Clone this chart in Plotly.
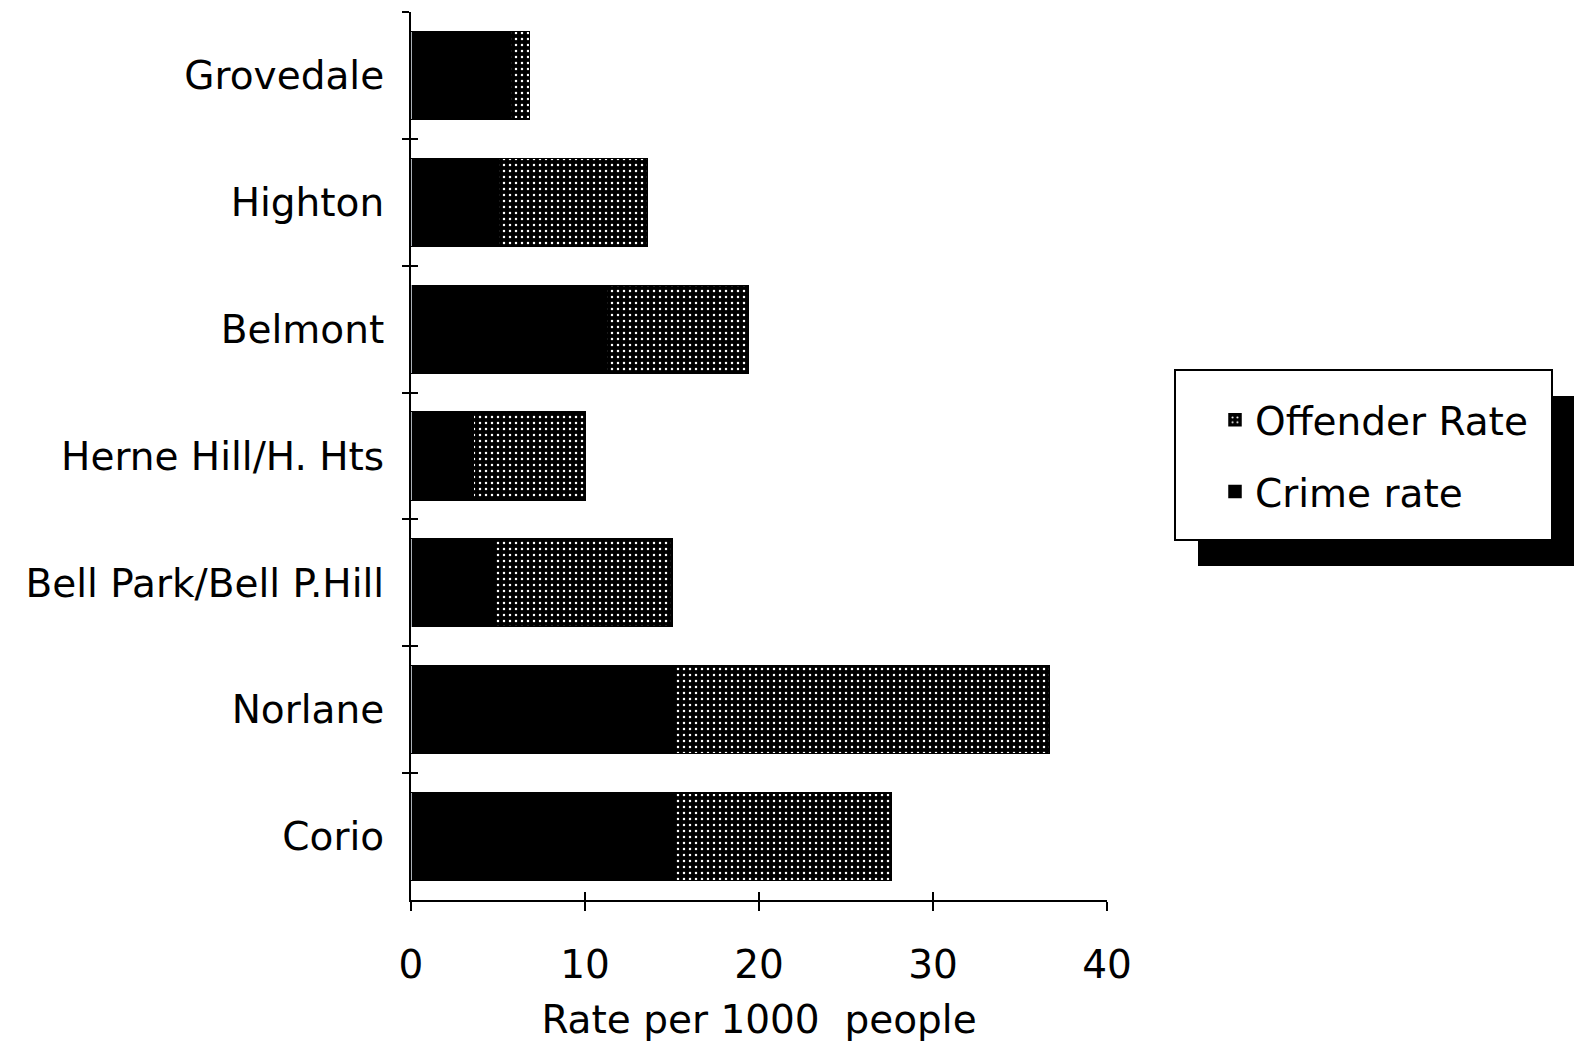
import plotly.graph_objects as go

suburbs = ["Grovedale", "Highton", "Belmont", "Herne Hill/H. Hts",
           "Bell Park/Bell P.Hill", "Norlane", "Corio"]
crime_rate = [5.7, 5.0, 11.2, 3.6, 4.8, 15.1, 15.1]
offender_rate = [1.1, 8.6, 8.2, 6.4, 10.2, 21.6, 12.5]
x_ticks = [0, 10, 20, 30, 40]
x_title = "Rate per 1000  people"

FONT = "DejaVu Sans"
FS = 39

fig = go.Figure()
fig.add_trace(go.Bar(
    y=suburbs, x=crime_rate, orientation="h", name="Crime rate",
    legendrank=2, legendgroup="crime",
    marker=dict(color="black", line=dict(color="black", width=1.5)),
))
fig.add_trace(go.Bar(
    y=suburbs, x=offender_rate, orientation="h", name="Offender Rate",
    legendrank=1, legendgroup="offender",
    marker=dict(color="black", line=dict(color="black", width=1.5),
                pattern=dict(shape=".", bgcolor="black", fgcolor="white",
                             size=6, solidity=0.14, fillmode="replace")),
))

L, R, T, B = 411, 467, 12, 144
W, H = 1574, 1044
pw, ph = W - L - R, H - T - B


def px(x):
    return (x - L) / pw


def py(y):
    return (H - B - y) / ph


axis_common = dict(tickwidth=2, tickcolor="black", showgrid=False,
                   zeroline=False, automargin=False)

fig.update_layout(
    width=W, height=H,
    margin=dict(l=L, r=R, t=T, b=B, autoexpand=False),
    paper_bgcolor="white", plot_bgcolor="white",
    barmode="stack", bargap=0.31,
    font=dict(family=FONT, size=FS, color="black"),
    showlegend=True,
    legend=dict(x=px(1215), y=py(388), xanchor="left", yanchor="top",
                bgcolor="rgba(0,0,0,0)", borderwidth=0,
                traceorder="grouped", tracegroupgap=18,
                font=dict(family=FONT, size=FS, color="black")),
    xaxis=dict(range=[0, 40], tickvals=x_ticks, ticks="outside", ticklen=9,
               showline=True, linecolor="black", linewidth=2,
               ticklabelstandoff=20,
               title=dict(text=x_title, standoff=20,
                          font=dict(family=FONT, size=FS)),
               **axis_common),
    xaxis2=dict(overlaying="x", matches="x", anchor="y", side="bottom",
                tickvals=x_ticks, ticks="inside", ticklen=8,
                showticklabels=False, showline=False, **axis_common),
    yaxis=dict(type="category", categoryorder="array", categoryarray=suburbs,
               range=[6.5, -0.5], tickson="boundaries", ticks="outside",
               ticklen=7, showline=True, linecolor="black", linewidth=2,
               ticklabelstandoff=17, **axis_common),
    yaxis2=dict(overlaying="y", matches="y", anchor="x", side="left",
                type="category", categoryorder="array", categoryarray=suburbs,
                tickson="boundaries", ticks="inside", ticklen=7,
                showticklabels=False, showline=False, **axis_common),
    shapes=[
        dict(type="rect", xref="paper", yref="paper",
             x0=px(1198), x1=px(1600), y0=py(566), y1=py(396),
             fillcolor="black", line=dict(width=0), layer="above"),
        dict(type="rect", xref="paper", yref="paper",
             x0=px(1175), x1=px(1552), y0=py(540), y1=py(370),
             fillcolor="white", line=dict(color="black", width=2), layer="above"),
    ],
)

# invisible carrier so the overlaid tick axes are drawn
fig.add_trace(go.Bar(y=suburbs, x=[0] * len(suburbs), orientation="h",
                     xaxis="x2", yaxis="y2", showlegend=False,
                     hoverinfo="skip", marker=dict(color="rgba(0,0,0,0)")))

fig.write_html("out.html")
